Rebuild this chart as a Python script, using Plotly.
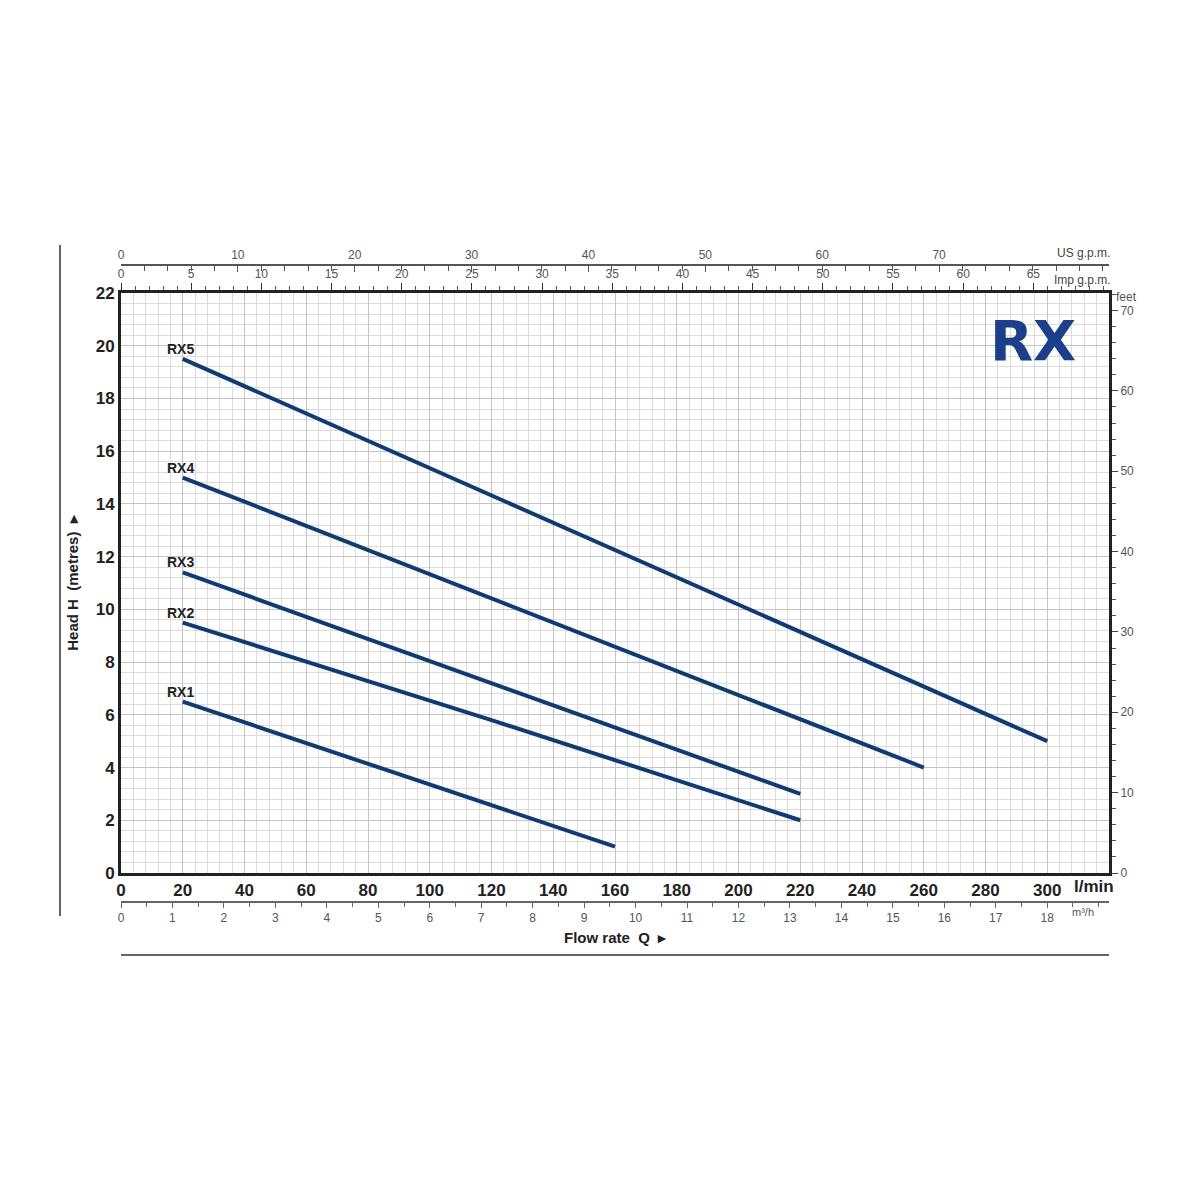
import plotly.graph_objects as go

# ---- data ----
series_names = ["RX1", "RX2", "RX3", "RX4", "RX5"]
flow_lmin = {
    "RX1": [20, 90, 160],
    "RX2": [20, 120, 220],
    "RX3": [20, 120, 220],
    "RX4": [20, 140, 260],
    "RX5": [20, 160, 300],
}
head_m = {
    "RX1": [6.5, 3.75, 1.0],
    "RX2": [9.5, 5.8, 2.0],
    "RX3": [11.4, 7.2, 3.0],
    "RX4": [15.0, 9.5, 4.0],
    "RX5": [19.5, 12.25, 5.0],
}
x_ticks_lmin = list(range(0, 301, 20))
y_ticks_m = list(range(0, 23, 2))
m3h_ticks = list(range(0, 19))
imp_ticks = list(range(0, 66, 5))
us_ticks = list(range(0, 71, 10))
feet_ticks = list(range(0, 71, 10))

X_MAX = 320.0
Y_MAX = 22.0
LMIN_PER_M3H = 1000.0 / 60.0
LMIN_PER_IMP = 4.54609
LMIN_PER_US = 3.78541
M_PER_FT = 0.3048

LINE_COLOR = "#0f3a78"
NAVY = "#1a3f8c"
FONT = "Liberation Sans Narrow, Arial Narrow, Liberation Sans, Arial, sans-serif"

# layout geometry (paper); page body adds an 8px offset
OFF = 8
ML, MR, MT, MB = 32, 48, 237, 278
W = H = 1200
pw = W - ML - MR
ph = H - MT - MB
def px_x(p):
    return (p - OFF - ML) / pw
def px_y(p):
    return (H - MB - (p - OFF)) / ph

x_dom = [px_x(121), px_x(1109)]
y_dom = [px_y(873), px_y(293)]

fig = go.Figure()
for name in series_names:
    fig.add_trace(go.Scatter(
        x=flow_lmin[name], y=head_m[name], mode="lines", name=name,
        line=dict(color=LINE_COLOR, width=4), showlegend=False,
        hoverinfo="x+y+name"))
    fig.add_annotation(x=flow_lmin[name][0], y=head_m[name][0], text=name,
                       showarrow=False, xanchor="center", yanchor="bottom",
                       xshift=-2, yshift=0,
                       font=dict(family=FONT, size=14, color="#222", weight="bold"))

axis_common = dict(showline=True, zeroline=False, fixedrange=True, automargin=False)

fig.update_layout(
    template="none",
    width=W, height=H,
    margin=dict(l=ML, r=MR, t=MT, b=MB, autoexpand=False),
    paper_bgcolor="white", plot_bgcolor="white",
    font=dict(family=FONT, color="#222"),
    showlegend=False,
    xaxis=dict(
        **axis_common, domain=x_dom, anchor="y", range=[0, X_MAX],
        tickvals=x_ticks_lmin, ticks="", linecolor="#222", linewidth=3,
        tickfont=dict(size=17, color="#222", family=FONT, weight="bold"),
        showgrid=True, gridcolor="#c4c4c4", gridwidth=1.3,
        minor=dict(dtick=4, tick0=0, showgrid=True, gridcolor="#dcdcdc", gridwidth=1),
    ),
    yaxis=dict(
        **axis_common, domain=y_dom, anchor="x", range=[0, Y_MAX],
        tickvals=y_ticks_m, ticks="", linecolor="#222", linewidth=3,
        tickfont=dict(size=17, color="#222", family=FONT, weight="bold"),
        showgrid=True, gridcolor="#c4c4c4", gridwidth=1.3,
        minor=dict(dtick=0.4, tick0=0, showgrid=True, gridcolor="#dcdcdc", gridwidth=1),
        title=dict(text="Head H  (metres)  ▸", standoff=14,
                   font=dict(size=15, family=FONT, color="#222", weight="bold")),
    ),
    # m3/h axis below
    xaxis2=dict(
        **axis_common, domain=x_dom, overlaying="x", anchor="free", side="bottom",
        position=px_y(902), range=[0, X_MAX / LMIN_PER_M3H],
        tickvals=m3h_ticks, ticks="outside", ticklen=5, tickcolor="#666",
        linecolor="#666", linewidth=1.5, showgrid=False,
        tickfont=dict(size=12, color="#555", family=FONT),
        minor=dict(dtick=0.5, ticks="outside", ticklen=4, tickcolor="#666"),
    ),
    # Imp g.p.m. axis on top of plot frame
    xaxis3=dict(
        **axis_common, domain=x_dom, overlaying="x", anchor="y", side="top",
        range=[0, X_MAX / LMIN_PER_IMP], mirror=False,
        tickvals=imp_ticks, ticks="outside", ticklen=7, tickcolor="#333",
        linecolor="#222", linewidth=3, showgrid=False,
        tickfont=dict(size=12, color="#555", family=FONT),
        minor=dict(dtick=1, ticks="outside", ticklen=4, tickcolor="#555"),
    ),
    # US g.p.m. axis above
    xaxis4=dict(
        **axis_common, domain=x_dom, overlaying="x", anchor="free", side="top",
        position=px_y(265), range=[0, X_MAX / LMIN_PER_US],
        tickvals=us_ticks, ticks="inside", ticklen=6, tickcolor="#555",
        linecolor="#555", linewidth=1.5, showgrid=False,
        tickfont=dict(size=12, color="#555", family=FONT),
        minor=dict(dtick=2, ticks="inside", ticklen=5, tickcolor="#555"),
    ),
    # feet axis right
    yaxis2=dict(
        **axis_common, domain=y_dom, overlaying="y", anchor="x", side="right",
        range=[0, Y_MAX / M_PER_FT],
        tickvals=feet_ticks, ticks="outside", ticklen=6, tickcolor="#444",
        linecolor="#222", linewidth=3, showgrid=False,
        tickfont=dict(size=12, color="#555", family=FONT),
        minor=dict(dtick=2, ticks="outside", ticklen=4, tickcolor="#555"),
    ),
)

# dummy traces to activate the secondary axes
for xa, ya in [("x2", "y"), ("x3", "y"), ("x4", "y"), ("x", "y2")]:
    fig.add_trace(go.Scatter(x=[0], y=[0], xaxis=xa, yaxis=ya, mode="markers",
                             marker=dict(opacity=0), showlegend=False, hoverinfo="skip"))

# unit labels
def paper_ann(xp, yp, text, size, color="#444", bold=False, xanchor="left", yanchor="middle"):
    fig.add_annotation(xref="paper", yref="paper", x=px_x(xp), y=px_y(yp), text=text,
                       showarrow=False, xanchor=xanchor, yanchor=yanchor,
                       font=dict(size=size, color=color, family=FONT,
                                 weight="bold" if bold else "normal"))

paper_ann(1055, 253, "US g.p.m.", 12)
paper_ann(1052, 280, "Imp g.p.m.", 12)
paper_ann(1114, 297, "feet", 12, color="#555")
paper_ann(1072, 886, "l/min", 17, color="#222", bold=True)
paper_ann(1070, 912, "m³/h", 11, color="#555")
paper_ann(615, 938, "Flow rate  Q  ▸", 15, color="#222", bold=True, xanchor="center")

# RX logo
fig.add_annotation(xref="paper", yref="paper", x=px_x(1033), y=px_y(340), text="<b>RX</b>",
                   showarrow=False, xanchor="center", yanchor="middle",
                   font=dict(size=56, color=NAVY, family="DejaVu Sans, Arial Black, sans-serif"))

# decorative frame lines
fig.add_shape(type="line", xref="paper", yref="paper", x0=px_x(60), x1=px_x(60),
              y0=px_y(245), y1=px_y(916), line=dict(color="#666", width=2))
fig.add_shape(type="line", xref="paper", yref="paper", x0=px_x(121), x1=px_x(1109),
              y0=px_y(955), y1=px_y(955), line=dict(color="#666", width=2))

fig.write_html("out.html")
